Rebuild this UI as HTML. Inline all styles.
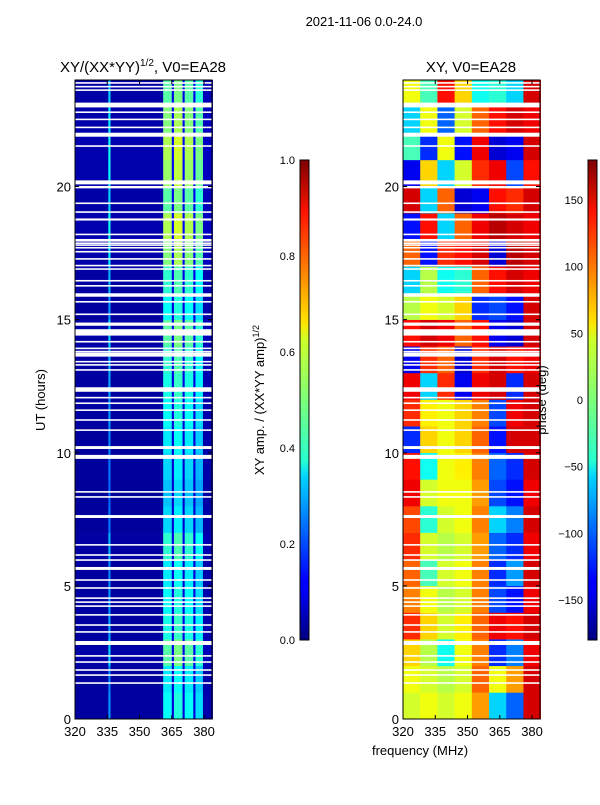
<!DOCTYPE html>
<html><head><meta charset="utf-8"><style>
body{margin:0;background:#fff;font-family:"Liberation Sans","DejaVu Sans",sans-serif}
svg text{font-family:"Liberation Sans","DejaVu Sans",sans-serif;fill:#000}
</style></head><body>
<svg id="fig" width="600" height="800" viewBox="0 0 600 800" xmlns="http://www.w3.org/2000/svg">
<defs>
<linearGradient id="jet" x1="0" y1="1" x2="0" y2="0">
<stop offset="0" stop-color="#00007f"/><stop offset="0.11" stop-color="#0000ff"/><stop offset="0.125" stop-color="#0000ff"/>
<stop offset="0.34" stop-color="#00d4ff"/><stop offset="0.375" stop-color="#29ffce"/><stop offset="0.5" stop-color="#7dff7a"/>
<stop offset="0.625" stop-color="#ceff29"/><stop offset="0.66" stop-color="#ffe500"/><stop offset="0.89" stop-color="#ff1400"/><stop offset="1" stop-color="#7f0000"/>
</linearGradient>
</defs>
<text x="364" y="26" font-size="13" text-anchor="middle">2021-11-06 0.0-24.0</text>
<text x="143" y="72" font-size="15" text-anchor="middle">XY/(XX*YY)<tspan font-size="10" dy="-6">1/2</tspan><tspan dy="6">, V0=EA28</tspan></text>
<text x="471" y="72" font-size="15" text-anchor="middle">XY, V0=EA28</text>
<g id="left"></g>
<g id="right"></g>
<g id="axes"></g>
<text transform="translate(45,400) rotate(-90)" font-size="13" text-anchor="middle">UT (hours)</text>
<text x="420" y="755" font-size="13" text-anchor="middle">frequency (MHz)</text>
<rect x="300" y="160" width="9" height="480" fill="url(#jet)" stroke="#000" stroke-width="1"/>
<rect x="588" y="160" width="9" height="480" fill="url(#jet)" stroke="#000" stroke-width="1"/>
<text transform="translate(264,400) rotate(-90)" font-size="13" text-anchor="middle">XY amp. / (XX*YY amp)<tspan font-size="9" dy="-5">1/2</tspan></text>
<text transform="translate(546,400) rotate(-90)" font-size="13" text-anchor="middle">phase (deg)</text>
</svg>
<script>
const flags=[[23.86,23.92],[23.72,23.78],[23.59,23.65],[22.97,23.15],[22.76,22.82],[22.49,22.55],[22.19,22.25],[21.87,22.02],[21.49,21.55],[20.08,20.23],[19.93,20.02],[19.34,19.4],[19.01,19.07],[18.72,18.8],[18.17,18.23],[17.93,18.03],[17.84,17.9],[17.77,17.83],[17.67,17.73],[17.52,17.58],[17.25,17.31],[17.0,17.06],[16.87,16.93],[16.43,16.49],[16.24,16.3],[15.86,15.99],[15.64,15.7],[15.17,15.23],[14.77,14.89],[14.4,14.64],[14.14,14.2],[13.89,13.95],[13.77,13.83],[13.61,13.76],[13.39,13.45],[13.27,13.33],[13.08,13.14],[12.29,12.46],[12.04,12.1],[11.83,11.89],[11.57,11.63],[11.2,11.26],[10.82,10.88],[10.14,10.25],[9.77,9.92],[8.5,8.56],[8.31,8.37],[7.55,7.66],[6.51,6.57],[6.13,6.19],[5.94,6.0],[5.6,5.71],[5.19,5.25],[4.89,4.95],[4.51,4.57],[4.36,4.42],[4.21,4.27],[3.88,3.94],[3.5,3.56],[3.24,3.3],[2.78,2.93],[2.34,2.4],[2.11,2.17],[1.81,1.87],[1.62,1.68],[1.32,1.38]];
const ampFreqs=[320,335.5,336.5,361,365,366,370,371,375,376,379.5,384];
const ampValues=[0.035,0.3,0.035,0.42,0.1,0.45,0.1,0.42,0.1,0.38,0.05];
const ampHourScale=[0.9,0.85,1.1,0.95,0.9,0.85,1.0,0.8,0.75,0.8,0.85,0.9,0.95,1.0,1.1,0.9,1.0,1.2,1.3,1.1,1.25,1.3,1.2,1.1];
const phaseFreqBins=[320,328,336,344,352,360,368,376,384];
const phaseValues=[
[30,40,30,40,80,-60,-100,150],[40,30,20,30,100,40,80,150],[60,20,-40,40,90,-120,-90,140],[120,60,30,50,100,140,130,150],
[90,40,20,30,90,-110,-130,140],[100,-20,30,40,90,-120,-80,150],[120,30,20,30,80,-100,-120,140],[110,-30,30,40,90,-60,-90,150],
[140,30,40,40,80,-110,-130,140],[130,-40,40,50,90,-100,-120,150],[-120,60,40,60,100,-130,150,150],[120,50,40,60,90,-110,140,150],
[140,-60,120,-140,140,150,-120,150],[-140,120,100,-150,120,150,130,140],[130,150,140,100,130,-140,-150,150],[20,40,30,60,-120,-110,-130,150],
[-60,20,-40,-30,100,130,150,140],[100,-130,120,130,150,-150,160,150],[-130,130,-60,100,140,160,150,140],[150,-60,100,-150,-140,130,120,150],
[-140,60,-60,30,120,140,-110,130],[-20,-120,40,-130,140,-150,-140,150],[-60,40,-100,30,100,130,150,140],[40,-20,130,60,-40,-30,-60,150]];
const yTicks=[0,5,10,15,20];
const xTicks=[320,335,350,365,380];
const ampTicks=[0,0.2,0.4,0.6,0.8,1.0];
const phaseTicks=[-150,-100,-50,0,50,100,150];

const NS="http://www.w3.org/2000/svg";
const Y0=719,Y1=80,FMIN=320,FMAX=383.7;
const yS=h=>Y0-(h/24)*(Y0-Y1);
function xS(f,x0){return x0+(f-FMIN)/(FMAX-FMIN)*137;}
function jet(v){v=Math.max(0,Math.min(1,v));
 const c=t=>Math.round(255*Math.max(0,Math.min(1,t)));
 return `rgb(${c(1.5-Math.abs(4*v-3))},${c(1.5-Math.abs(4*v-2))},${c(1.5-Math.abs(4*v-1))})`;}
function mk(tag,a,p){const e=document.createElementNS(NS,tag);for(const k in a)e.setAttribute(k,a[k]);p.appendChild(e);return e;}
const L=document.getElementById('left'),R=document.getElementById('right'),A=document.getElementById('axes');
for(let h=0;h<24;h++){
 for(let i=0;i<ampValues.length;i++){
  const r=mk('rect',{x:xS(ampFreqs[i],75),y:yS(h+1),width:xS(ampFreqs[i+1],75)-xS(ampFreqs[i],75)+0.3,height:yS(h)-yS(h+1)+0.3,fill:jet(ampValues[i]*ampHourScale[h])},L);
  
  
 }
 for(let i=0;i<8;i++){
  const r=mk('rect',{x:xS(phaseFreqBins[i],403),y:yS(h+1),width:xS(phaseFreqBins[i+1],403)-xS(phaseFreqBins[i],403)+0.3,height:yS(h)-yS(h+1)+0.3,fill:jet((phaseValues[h][i]+180)/360)},R);
  
  
 }
}
for(const [x0,g] of [[75,L],[403,R]]){
 for(const f of flags){
  const r=mk('rect',{x:x0,y:yS(f[1]),width:137,height:Math.max(1.5,yS(f[0])-yS(f[1])),fill:'#fff'},g);
  
  
 }
 const fr=mk('rect',{x:x0,y:Y1,width:137,height:Y0-Y1,fill:'none',stroke:'#000','stroke-width':1},A);
 
 
 for(const t of yTicks){const y=yS(t);
  mk('line',{x1:x0,x2:x0+4,y1:y,y2:y,stroke:'#000'},A);mk('line',{x1:x0+133,x2:x0+137,y1:y,y2:y,stroke:'#000'},A);
  const tx=mk('text',{x:x0-4,y:y+5,'font-size':13,'text-anchor':'end'},A);tx.textContent=t;
  
  }
 for(const t of xTicks){const x=xS(t,x0);
  mk('line',{x1:x,x2:x,y1:Y0,y2:Y0-4,stroke:'#000'},A);mk('line',{x1:x,x2:x,y1:Y1,y2:Y1+4,stroke:'#000'},A);
  const tx=mk('text',{x:x,y:Y0+17,'font-size':13,'text-anchor':'middle'},A);tx.textContent=t;
  
  }
}
for(const t of ampTicks){const y=640-t*480;
 mk('line',{x1:300,x2:309,y1:y,y2:y,stroke:'#000'},A);
 const tx=mk('text',{x:295,y:y+4,'font-size':11,'text-anchor':'end'},A);tx.textContent=t.toFixed(1);
 
 }
for(const t of phaseTicks){const y=400-t*480/360;
 mk('line',{x1:588,x2:597,y1:y,y2:y,stroke:'#000'},A);
 const tx=mk('text',{x:583,y:y+4,'font-size':11,'text-anchor':'end'},A);tx.textContent=t<0?'\u2212'+(-t):t;
 
 }
</script>
</body></html>
